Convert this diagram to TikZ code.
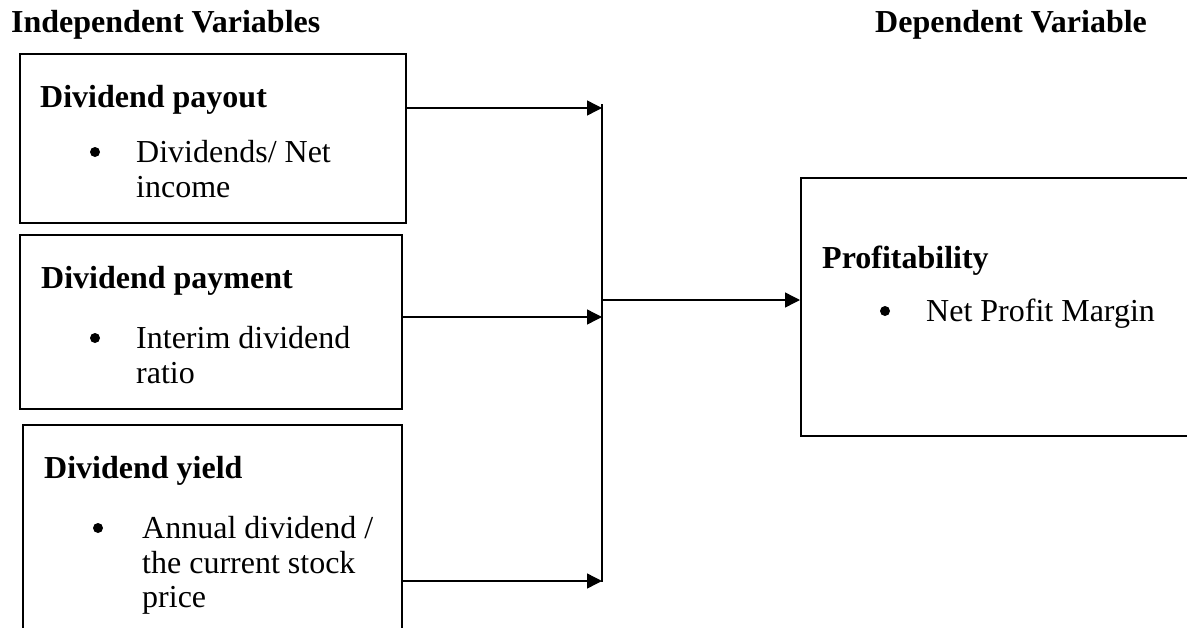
\documentclass[tikz,border=0pt]{standalone}
\usepackage{fontspec}
\setmainfont{Liberation Serif}
\usetikzlibrary{arrows.meta}
\tikzset{
  boxnode/.style={draw, line width=2.4pt, rectangle, inner sep=0pt, anchor=north west},
  txt/.style={anchor=base west, inner sep=0pt, font=\fontsize{32}{36}\selectfont},
  head/.style={txt, font=\fontsize{32}{36}\selectfont\bfseries},
  bul/.style={circle, fill=black, inner sep=0pt, minimum size=10pt},
  conn/.style={line width=1.4pt, -{Triangle[length=15pt,width=15pt]}},
  bus/.style={line width=1.4pt}
}
\begin{document}
\begin{tikzpicture}[x=1pt,y=-1pt]
\useasboundingbox (0,0) rectangle (1187,627);
\clip (0,0) rectangle (1187,627);
% headings
\node[head] (hind) at (11,32) {Independent Variables};
\node[head] (hdep) at (875,32) {Dependent Variable};
% boxes
\node[boxnode, minimum width=386pt, minimum height=169pt] (b1) at (19,53) {};
\node[boxnode, minimum width=382pt, minimum height=174pt] (b2) at (19,234) {};
\node[boxnode, minimum width=379pt, minimum height=260pt] (b3) at (22,424) {};
\node[boxnode, minimum width=420pt, minimum height=258pt] (b4) at (800,177) {};
% box 1 text
\node[head] (t1) at (40,107) {Dividend payout};
\node[bul] (u1) at (95,152) {};
\node[txt] (l1a) at (136,162) {Dividends/ Net};
\node[txt] (l1b) at (136,197) {income};
% box 2 text
\node[head] (t2) at (41,288) {Dividend payment};
\node[bul] (u2) at (95,338) {};
\node[txt] (l2a) at (136,348) {Interim dividend};
\node[txt] (l2b) at (136,383) {ratio};
% box 3 text
\node[head] (t3) at (44,478) {Dividend yield};
\node[bul] (u3) at (98,528) {};
\node[txt] (l3a) at (142,538) {Annual dividend /};
\node[txt] (l3b) at (142,573) {the current stock};
\node[txt] (l3c) at (142,607) {price};
% box 4 text
\node[head] (t4) at (822,268) {Profitability};
\node[bul] (u4) at (885,311) {};
\node[txt] (l4a) at (926,321) {Net Profit Margin};
% bus
\coordinate (bt) at (602,104);
\coordinate (bb) at (602,582);
\coordinate (j1) at (602,108);
\coordinate (j2) at (602,317);
\coordinate (j3) at (602,581);
\coordinate (j4) at (602,300);
\draw[bus] (bt) -- (bb);
\draw[conn] (b1.east |- j1) -- (j1);
\draw[conn] (b2.east |- j2) -- (j2);
\draw[conn] (b3.east |- j3) -- (j3);
\draw[conn] (j4) -- (b4.west |- j4);
\end{tikzpicture}
\end{document}
